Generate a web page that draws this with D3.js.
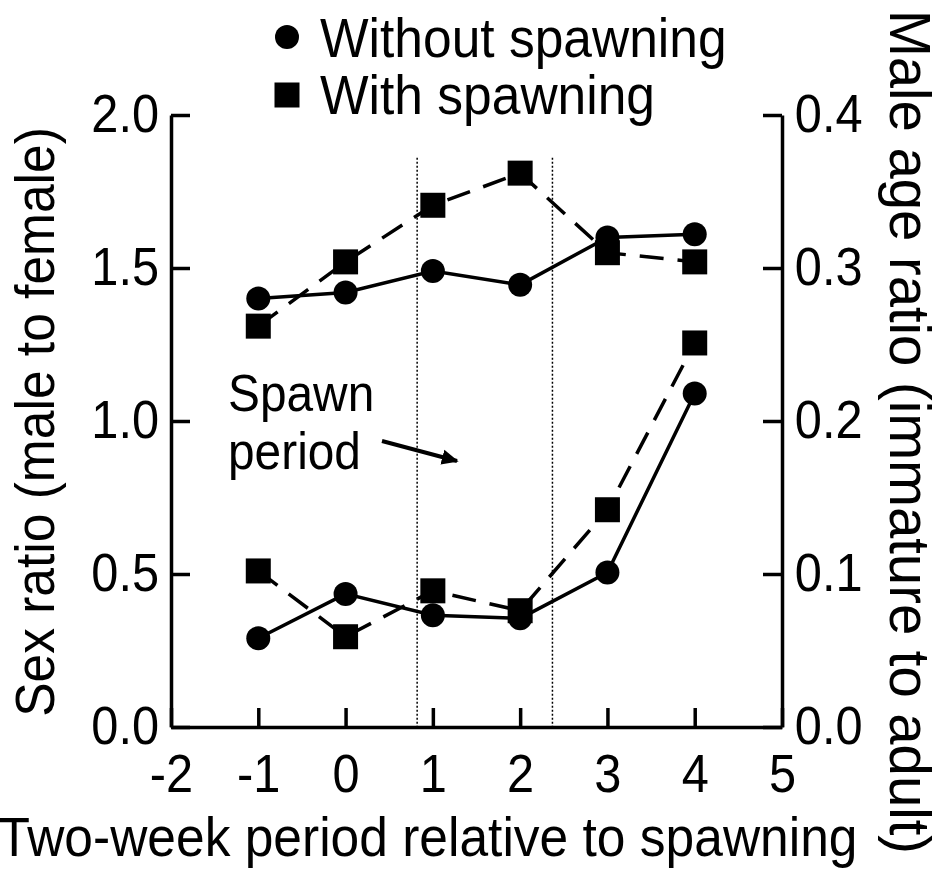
<!DOCTYPE html>
<html>
<head>
<meta charset="utf-8">
<script src="https://cdn.jsdelivr.net/npm/d3@7"></script>
<style>
  html, body { margin: 0; padding: 0; background: #fff; }
  svg { display: block; font-family: "Liberation Sans", Arial, Helvetica, sans-serif; }
</style>
</head>
<body>
<svg id="chart" width="944" height="870"></svg>
<script>
// Two-week periods relative to spawning
const weeks = [-1, 0, 1, 2, 3, 4];

// Sex ratio (male to female), left axis
const sexRatioWithout = [1.40, 1.42, 1.49, 1.445, 1.60, 1.61];
const sexRatioWith    = [1.31, 1.52, 1.705, 1.81, 1.55, 1.52];

// Male age ratio (immature to adult), right axis
const ageRatioWithout = [0.058, 0.087, 0.073, 0.071, 0.101, 0.218];
const ageRatioWith    = [0.102, 0.059, 0.089, 0.076, 0.142, 0.251];

// Axis ticks
const xTicks = [-2, -1, 0, 1, 2, 3, 4, 5];
const leftTicks = [0, 0.5, 1.0, 1.5, 2.0];
const rightTicks = [0, 0.1, 0.2, 0.3, 0.4];

// Spawn period boundaries (x units) and the top of the guide lines (left-axis units)
const spawnBounds = [0.82, 2.37];
const spawnTop = 1.86;

const legendLabels = ["Without spawning", "With spawning"];

const svg = d3.select("#chart");
const plotLeft = 171, plotRight = 782, plotTop = 115, plotBottom = 727;

const x = d3.scaleLinear().domain([-2, 5]).range([plotLeft, plotRight]);
const yL = d3.scaleLinear().domain([0, 2]).range([plotBottom, plotTop]);
const yR = d3.scaleLinear().domain([0, 0.4]).range([plotBottom, plotTop]);

// narrow sans look: glyphs squeezed horizontally
const SQ = 0.92;
const tickFS = 53;
const tickLen = 19;
const axisW = 3.5;

function styleAxis(g) {
  g.selectAll("path.domain").attr("stroke", "#000").attr("stroke-width", axisW);
  g.selectAll(".tick line").attr("stroke", "#000").attr("stroke-width", axisW);
  g.selectAll(".tick text").attr("fill", "#000").attr("font-size", tickFS)
    .attr("font-family", "Liberation Sans, Arial, sans-serif")
    .attr("transform", `scale(${SQ},1)`);
}

// x axis
svg.append("g")
  .attr("transform", `translate(0,${plotBottom})`)
  .call(d3.axisBottom(x).tickValues(xTicks).tickFormat(d => String(d))
        .tickSizeInner(-tickLen).tickSizeOuter(0).tickPadding(27))
  .call(styleAxis);

// left axis
svg.append("g")
  .attr("transform", `translate(${plotLeft},0)`)
  .call(d3.axisLeft(yL).tickValues(leftTicks).tickFormat(d3.format(".1f"))
        .tickSizeInner(-tickLen).tickSizeOuter(0).tickPadding(13))
  .call(styleAxis);

// right axis
svg.append("g")
  .attr("transform", `translate(${plotRight},0)`)
  .call(d3.axisRight(yR).tickValues(rightTicks).tickFormat(d3.format(".1f"))
        .tickSizeInner(-tickLen).tickSizeOuter(0).tickPadding(14))
  .call(styleAxis);

// spawn period guide lines
svg.append("g").selectAll("line")
  .data(spawnBounds).join("line")
  .attr("x1", d => x(d)).attr("x2", d => x(d))
  .attr("y1", yL(spawnTop)).attr("y2", yL(0))
  .attr("stroke", "#000").attr("stroke-width", 1.5)
  .attr("stroke-dasharray", "2,2");

// series
const series = [
  { vals: sexRatioWithout, y: yL, shape: "circle", dash: null },
  { vals: sexRatioWith,    y: yL, shape: "square", dash: "24,14" },
  { vals: ageRatioWithout, y: yR, shape: "circle", dash: null },
  { vals: ageRatioWith,    y: yR, shape: "square", dash: "24,14" }
];

series.forEach(s => {
  const pts = weeks.map((w, i) => [w, s.vals[i]]);
  const line = d3.line().x(d => x(d[0])).y(d => s.y(d[1]));
  svg.append("path")
    .attr("d", line(pts))
    .attr("fill", "none").attr("stroke", "#000").attr("stroke-width", 3.5)
    .attr("stroke-dasharray", s.dash);
});

const circleR = 12, squareSide = 25;
series.forEach(s => {
  const pts = weeks.map((w, i) => [w, s.vals[i]]);
  const g = svg.append("g");
  if (s.shape === "circle") {
    g.selectAll("circle").data(pts).join("circle")
      .attr("cx", d => x(d[0])).attr("cy", d => s.y(d[1])).attr("r", circleR)
      .attr("fill", "#000");
  } else {
    g.selectAll("rect").data(pts).join("rect")
      .attr("x", d => x(d[0]) - squareSide / 2).attr("y", d => s.y(d[1]) - squareSide / 2)
      .attr("width", squareSide).attr("height", squareSide)
      .attr("fill", "#000");
  }
});

// text helper: positioned, optionally rotated, squeezed horizontally
function label(px, py, str, size, opts = {}) {
  const rot = opts.rotate ? ` rotate(${opts.rotate})` : "";
  const sq = opts.squeeze || SQ;
  return svg.append("text")
    .attr("transform", `translate(${px},${py})${rot} scale(${sq},1)`)
    .attr("text-anchor", opts.anchor || "start")
    .attr("font-size", size).attr("fill", "#000")
    .text(str);
}

// legend
svg.append("circle").attr("cx", 287).attr("cy", 37).attr("r", circleR).attr("fill", "#000");
svg.append("rect").attr("x", 287 - squareSide / 2).attr("y", 95 - squareSide / 2)
  .attr("width", squareSide).attr("height", squareSide).attr("fill", "#000");
legendLabels.forEach((t, i) => label(320, 57 + i * 57, t, 56));

// annotation
label(228, 411, "Spawn", 52);
label(228, 469, "period", 52);
svg.append("defs").append("marker")
  .attr("id", "arrow").attr("viewBox", "0 0 10 10")
  .attr("refX", 9).attr("refY", 5)
  .attr("markerWidth", 4.2).attr("markerHeight", 4.2)
  .attr("orient", "auto")
  .append("path").attr("d", "M0,0.5 L10,5 L0,9.5 Z").attr("fill", "#000");
svg.append("line")
  .attr("x1", 382).attr("y1", 441).attr("x2", 457).attr("y2", 461)
  .attr("stroke", "#000").attr("stroke-width", 4)
  .attr("marker-end", "url(#arrow)");

// axis titles
label(54, 422, "Sex ratio (male to female)", 56, { rotate: -90, anchor: "middle" });
label(890, 432, "Male age ratio (immature to adult)", 58, { rotate: 90, anchor: "middle", squeeze: 0.97 });
label(428, 856, "Two-week period relative to spawning", 56, { anchor: "middle" });
</script>
</body>
</html>
